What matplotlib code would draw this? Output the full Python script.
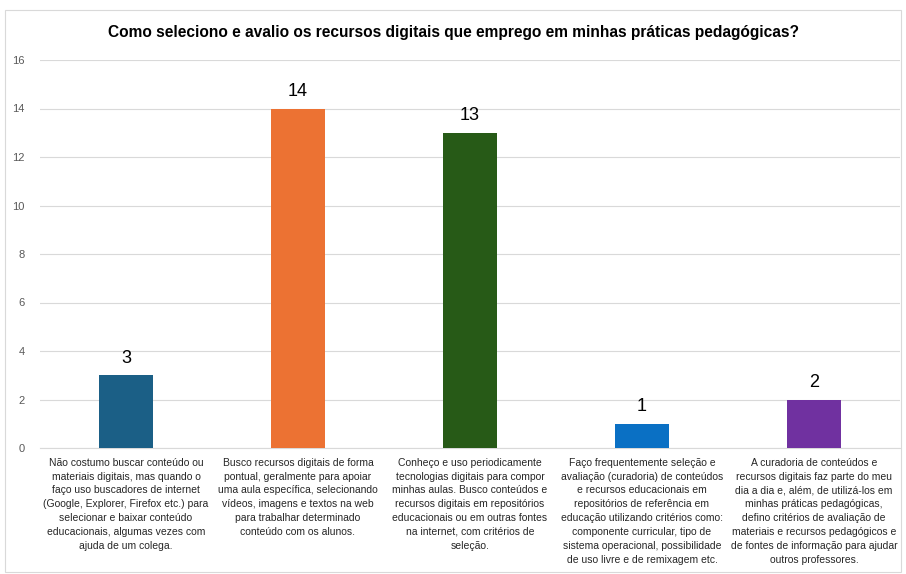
import matplotlib.pyplot as plt
from matplotlib.patches import Rectangle

categories = [
    "Não costumo buscar conteúdo ou\nmateriais digitais, mas quando o\nfaço uso buscadores de internet\n(Google, Explorer, Firefox etc.) para\nselecionar e baixar conteúdo\neducacionais, algumas vezes com\najuda de um colega.",
    "Busco recursos digitais de forma\npontual, geralmente para apoiar\numa aula específica, selecionando\nvídeos, imagens e textos na web\npara trabalhar determinado\nconteúdo com os alunos.",
    "Conheço e uso periodicamente\ntecnologias digitais para compor\nminhas aulas. Busco conteúdos e\nrecursos digitais em repositórios\neducacionais ou em outras fontes\nna internet, com critérios de\nseleção.",
    "Faço frequentemente seleção e\navaliação (curadoria) de conteúdos\ne recursos educacionais em\nrepositórios de referência em\neducação utilizando critérios como:\ncomponente curricular, tipo de\nsistema operacional, possibilidade\nde uso livre e de remixagem etc.",
    "A curadoria de conteúdos e\nrecursos digitais faz parte do meu\ndia a dia e, além, de utilizá-los em\nminhas práticas pedagógicas,\ndefino critérios de avaliação de\nmateriais e recursos pedagógicos e\nde fontes de informação para ajudar\noutros professores.",
]
values = [3, 14, 13, 1, 2]
colors = ["#1B5F86", "#EC7233", "#275A17", "#0A70C4", "#7031A0"]
title = "Como seleciono e avalio os recursos digitais que emprego em minhas práticas pedagógicas?"

plt.rcParams['font.family'] = ['Liberation Sans', 'DejaVu Sans']

fig = plt.figure(figsize=(9.06, 5.74), dpi=100)
# chart border
fig.patches.append(Rectangle((5 / 906, 2 / 574), 896 / 906, 562 / 574, transform=fig.transFigure,
                             fill=False, edgecolor="#D9D9D9", linewidth=0.8))
ax = fig.add_axes([40 / 906, 126 / 574, 860 / 906, 388 / 574])

x = range(len(values))
bars = ax.bar(x, values, width=0.31, color=colors, zorder=3)
for xi, v in zip(x, values):
    ax.text(xi, v + 0.35, str(v), ha="center", va="bottom", fontsize=13, color="#000000")

ax.set_xlim(-0.5, len(values) - 0.5)
ax.set_ylim(0, 16)
ax.set_yticks(range(0, 17, 2))
ax.set_xticks(list(x))
ax.set_xticklabels(categories, fontsize=7.5, color="#262626", linespacing=1.48, va="top")
ax.tick_params(axis="x", length=0, pad=7)
ax.tick_params(axis="y", length=0, labelsize=8, labelcolor="#595959", pad=11)
ax.grid(axis="y", color="#D9D9D9", linewidth=0.8, zorder=0)
for s in ["top", "right", "left"]:
    ax.spines[s].set_visible(False)
ax.spines["bottom"].set_color("#D9D9D9")

fig.text(0.5, 541 / 574, title, ha="center", va="center", fontsize=11.2, fontweight="bold", color="#000000")

fig.savefig("out.png", dpi=100)
